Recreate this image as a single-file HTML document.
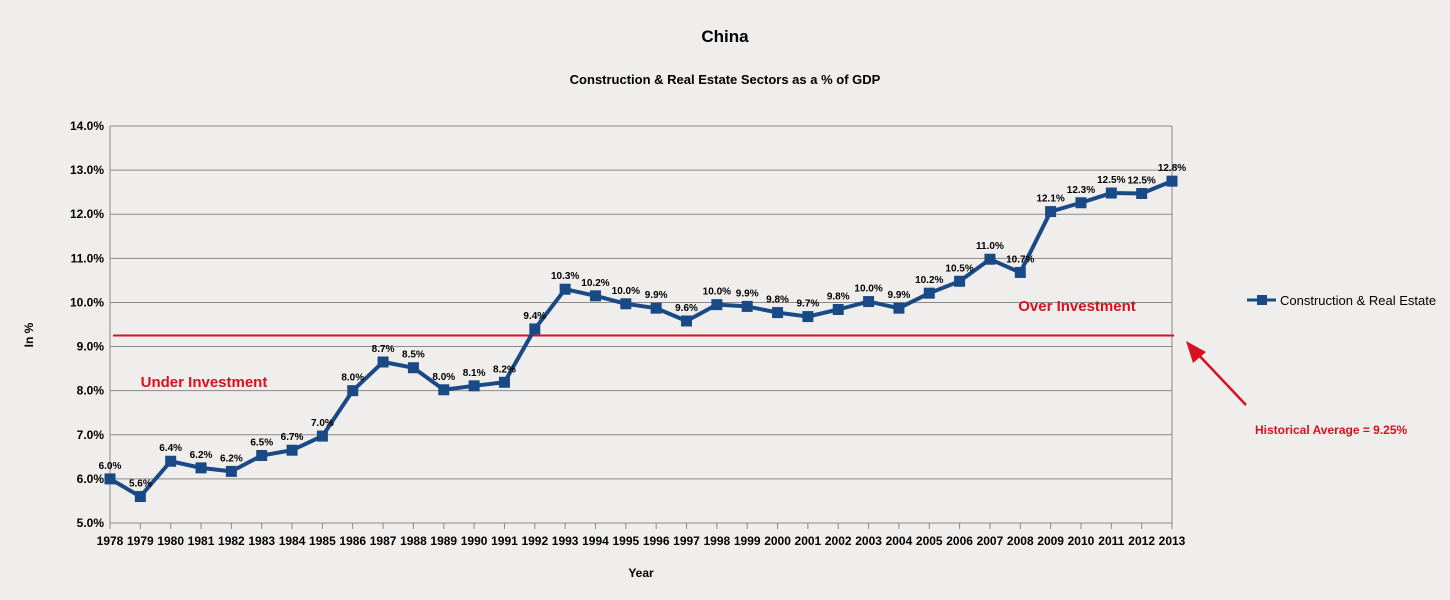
<!DOCTYPE html>
<html><head><meta charset="utf-8"><style>
body{margin:0;background:#efeeec;}
svg{display:block;font-family:"Liberation Sans",Arial,sans-serif;}
</style></head><body>
<svg id="c" width="1450" height="600">
<rect width="1450" height="600" fill="#efeeec"/>
<text x="725" y="42" text-anchor="middle" font-size="17" font-weight="bold">China</text>
<text x="725" y="84" text-anchor="middle" font-size="13" font-weight="bold">Construction &amp; Real Estate Sectors as a % of GDP</text>
<text transform="translate(33,335) rotate(-90)" text-anchor="middle" font-size="12" font-weight="bold">In %</text>
<text x="641" y="577" text-anchor="middle" font-size="12" font-weight="bold">Year</text>
<g id="grid"></g><g id="series"></g>
<text x="204" y="387" text-anchor="middle" font-size="15" font-weight="bold" fill="#d9101e">Under Investment</text>
<text x="1077" y="311" text-anchor="middle" font-size="15" font-weight="bold" fill="#d9101e">Over Investment</text>
<line x1="1246" y1="405" x2="1194" y2="350" stroke="#d9101e" stroke-width="2.5"/>
<polygon points="1186,341 1206,352 1193,363" fill="#d9101e"/>
<text x="1255" y="434" font-size="12" font-weight="bold" fill="#d9101e">Historical Average = 9.25%</text>
<line x1="1247" y1="300" x2="1276" y2="300" stroke="#1a4a86" stroke-width="3"/>
<rect x="1257" y="295" width="10" height="10" fill="#1a4a86"/>
<text x="1280" y="305" font-size="13">Construction &amp; Real Estate</text>
</svg>
<script>
const years=["1978","1979","1980","1981","1982","1983","1984","1985","1986","1987","1988","1989","1990","1991","1992","1993","1994","1995","1996","1997","1998","1999","2000","2001","2002","2003","2004","2005","2006","2007","2008","2009","2010","2011","2012","2013"];
const values=[6.0,5.6,6.4,6.25,6.17,6.53,6.65,6.97,8.0,8.65,8.52,8.02,8.11,8.19,9.4,10.3,10.15,9.97,9.87,9.58,9.95,9.91,9.77,9.68,9.84,10.02,9.87,10.21,10.48,10.98,10.68,12.06,12.26,12.48,12.47,12.75];
const labels=["6.0%","5.6%","6.4%","6.2%","6.2%","6.5%","6.7%","7.0%","8.0%","8.7%","8.5%","8.0%","8.1%","8.2%","9.4%","10.3%","10.2%","10.0%","9.9%","9.6%","10.0%","9.9%","9.8%","9.7%","9.8%","10.0%","9.9%","10.2%","10.5%","11.0%","10.7%","12.1%","12.3%","12.5%","12.5%","12.8%"];
const yTicks=[5,6,7,8,9,10,11,12,13,14];
const average=[9.25];
const NS="http://www.w3.org/2000/svg";
const L=110,R=1172,T=126,B=523,ymin=5,ymax=14;
const xs=i=>L+(R-L)*i/(years.length-1);
const ys=v=>B-(B-T)*(v-ymin)/(ymax-ymin);
function mk(p,t,a){const e=document.createElementNS(NS,t);for(const k in a)e.setAttribute(k,a[k]);p.appendChild(e);return e;}
const g=document.getElementById('grid'),s=document.getElementById('series');
yTicks.forEach(v=>{
 const l=mk(g,'line',{x1:L,x2:R,y1:ys(v),y2:ys(v),stroke:'#8a8a8a','stroke-width':1});
 
 
 const t=mk(g,'text',{x:L-6,y:ys(v)+4,'text-anchor':'end','font-size':12,'font-weight':'bold'});
 t.textContent=v.toFixed(1)+'%';
 
 
});
const ax=mk(g,'line',{x1:L,x2:L,y1:T,y2:B+6,stroke:'#8a8a8a'});


const ax2=mk(g,'line',{x1:R,x2:R,y1:T,y2:B+6,stroke:'#8a8a8a'});


years.forEach((y,i)=>{
 const tk=mk(g,'line',{x1:xs(i),x2:xs(i),y1:B,y2:B+6,stroke:'#8a8a8a'});
 
 
 const t=mk(g,'text',{x:xs(i),y:B+22,'text-anchor':'middle','font-size':12,'font-weight':'bold'});
 t.textContent=y;
 
 
});
const av=mk(g,'line',{x1:L+3,x2:R+2,y1:ys(average[0]),y2:ys(average[0]),stroke:'#d9101e','stroke-width':2});


const pl=mk(s,'polyline',{points:values.map((v,i)=>xs(i)+','+ys(v)).join(' '),fill:'none',stroke:'#1a4a86','stroke-width':4,'stroke-linejoin':'round'});


values.forEach((v,i)=>{
 const m=mk(s,'rect',{x:xs(i)-5.5,y:ys(v)-5.5,width:11,height:11,fill:'#1a4a86'});
 
 
 const t=mk(s,'text',{x:xs(i),y:ys(v)-10,'text-anchor':'middle','font-size':10,'font-weight':'bold'});
 t.textContent=labels[i];
 
 
});
</script>
</body></html>
